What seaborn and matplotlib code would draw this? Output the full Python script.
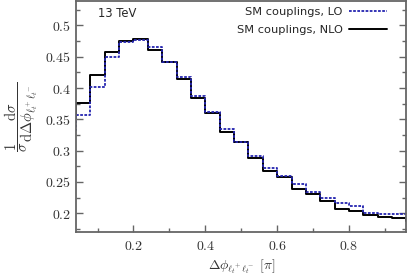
import numpy as np
import pandas as pd
import matplotlib
matplotlib.use("Agg")
import matplotlib.pyplot as plt
from matplotlib.ticker import MultipleLocator, FuncFormatter
from matplotlib.lines import Line2D
import seaborn as sns

# bin edges in units of pi, 25 bins of width 0.04
bin_lo = [0.00, 0.04, 0.08, 0.12, 0.16, 0.20, 0.24, 0.28, 0.32, 0.36, 0.40, 0.44,
          0.48, 0.52, 0.56, 0.60, 0.64, 0.68, 0.72, 0.76, 0.80, 0.84, 0.88, 0.92, 0.96]
bin_width = 0.04

# normalised distributions
lo_vals = [0.333, 0.357, 0.401, 0.449, 0.474, 0.477, 0.465, 0.442, 0.417, 0.388, 0.361, 0.335,
           0.314, 0.292, 0.273, 0.259, 0.246, 0.234, 0.224, 0.216, 0.211, 0.201, 0.199, 0.198, 0.189]
nlo_vals = [0.355, 0.376, 0.420, 0.457, 0.475, 0.478, 0.461, 0.442, 0.415, 0.384, 0.360, 0.329,
            0.313, 0.288, 0.268, 0.258, 0.238, 0.231, 0.219, 0.207, 0.204, 0.197, 0.194, 0.193, 0.188]

lo_label = "SM couplings, LO"
nlo_label = "SM couplings, NLO"

sns.set_style("white")
plt.rcParams["mathtext.fontset"] = "cm"
plt.rcParams["font.family"] = ["DejaVu Sans"]

edges = [round(b, 2) for b in bin_lo] + [round(bin_lo[-1] + bin_width, 2)]
df = pd.DataFrame({"centre": np.array(bin_lo) + bin_width / 2,
                   "lo": lo_vals, "nlo": nlo_vals})

fig = plt.figure(figsize=(4.07, 2.77), dpi=100)
ax = fig.add_axes([0.1867, 0.1625, 0.812, 0.8339])

lo_style = dict(color="#2424b0", linewidth=1.3, linestyle=(0, (1.5, 0.8)))
nlo_style = dict(color="black", linewidth=1.4)

sns.histplot(data=df, x="centre", weights="nlo", bins=edges, element="step",
             fill=False, ax=ax, **nlo_style)
sns.histplot(data=df, x="centre", weights="lo", bins=edges, element="step",
             fill=False, ax=ax, **lo_style)

ax.set_xlim(0.04, 0.96)
ax.set_ylim(0.17, 0.539)

# ticks
ax.xaxis.set_major_locator(MultipleLocator(0.2))
ax.xaxis.set_minor_locator(MultipleLocator(0.1))
ax.yaxis.set_major_locator(MultipleLocator(0.05))
ax.yaxis.set_minor_locator(MultipleLocator(0.025))
fmt = FuncFormatter(lambda v, p: "$%g$" % round(v, 3))
ax.xaxis.set_major_formatter(fmt)
ax.yaxis.set_major_formatter(fmt)
ax.tick_params(which="both", direction="in", color="#666666", labelsize=10,
               left=True, right=True, bottom=True, top=False, labelcolor="#333333")
ax.tick_params(which="major", length=5, width=1)
ax.tick_params(which="minor", length=3, width=1)
ax.tick_params(axis="x", pad=5)
for s in ax.spines.values():
    s.set_color("#666666")
    s.set_linewidth(1.3)

ax.set_xlabel(r"$\Delta\phi_{\ell_t^+\ell_t^-}\ [\pi]$", fontsize=10, color="#333333",
              labelpad=3)
ax.set_ylabel(r"$\dfrac{1}{\sigma}\dfrac{\mathrm{d}\sigma}{\mathrm{d}\Delta\phi_{\ell_t^+\ell_t^-}}$",
              fontsize=10.5, color="#333333", labelpad=4)

ax.text(0.066, 0.945, "13 TeV", transform=ax.transAxes, fontsize=8.3, va="center")

handles = [Line2D([], [], **lo_style), Line2D([], [], **nlo_style)]
ax.legend(handles, [lo_label, nlo_label], loc="upper right", frameon=False,
          markerfirst=False, fontsize=8.2, handlelength=3.3, borderaxespad=0.0,
          bbox_to_anchor=(0.955, 0.995), labelspacing=0.75, handletextpad=0.6)

plt.savefig("out.png", dpi=100)
